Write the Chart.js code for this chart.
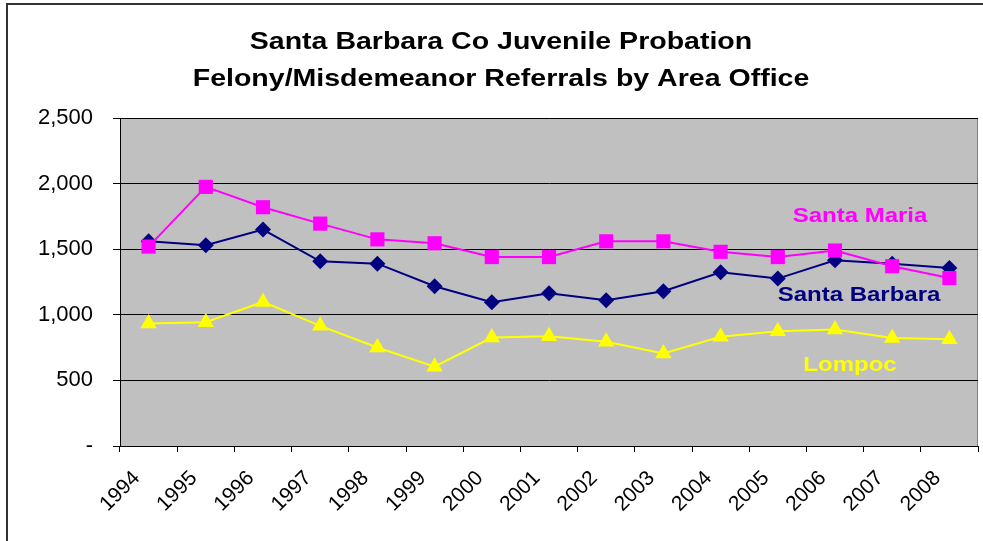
<!DOCTYPE html>
<html>
<head>
<meta charset="utf-8">
<script src="https://cdn.jsdelivr.net/npm/chart.js@4/dist/chart.umd.min.js"></script>
<style>
  html, body { margin: 0; padding: 0; background: #fff; overflow: hidden; }
  #wrap { position: relative; width: 983px; height: 541px; }
  #frame { position: absolute; left: 6px; top: 3px; width: 1000px; height: 600px;
           border-left: 2px solid #333; border-top: 2px solid #333; box-sizing: border-box; pointer-events: none; }
  canvas { position: absolute; left: 0; top: 0; }
</style>
</head>
<body>
<div id="wrap">
  <canvas id="c" width="983" height="541"></canvas>
  <div id="frame"></div>
</div>
<script>
const categories = ['1994','1995','1996','1997','1998','1999','2000','2001','2002','2003','2004','2005','2006','2007','2008'];
const santaMaria   = [1520, 1975, 1820, 1695, 1575, 1545, 1440, 1440, 1560, 1560, 1480, 1440, 1490, 1370, 1280];
const santaBarbara = [1560, 1530, 1650, 1408, 1390, 1218, 1096, 1164, 1111, 1180, 1324, 1276, 1416, 1390, 1357];
const lompoc       = [934, 944, 1098, 916, 751, 604, 827, 837, 794, 705, 832, 875, 888, 824, 814];
const titleLines = ['Santa Barbara Co Juvenile Probation', 'Felony/Misdemeanor Referrals by Area Office'];
const seriesNames = ['Santa Maria', 'Santa Barbara', 'Lompoc'];

const FONT = "'Liberation Sans', Arial, Helvetica, sans-serif";

function stretchedText(ctx, text, cx, baseY, font, color, sx) {
  ctx.save();
  ctx.translate(cx, baseY);
  ctx.scale(sx, 1);
  ctx.font = font;
  ctx.fillStyle = color;
  ctx.textAlign = 'center';
  ctx.textBaseline = 'alphabetic';
  ctx.fillText(text, 0, 0);
  ctx.restore();
}

const decor = {
  id: 'decor',
  beforeDraw(chart) {
    const { ctx, chartArea: a } = chart;
    ctx.save();
    ctx.fillStyle = '#C0C0C0';
    ctx.fillRect(a.left, a.top, a.right - a.left, a.bottom - a.top);
    ctx.strokeStyle = '#808080';
    ctx.lineWidth = 1;
    ctx.strokeRect(a.left + 0.5, a.top + 0.5, a.right - a.left - 1, a.bottom - a.top);
    ctx.restore();
  },
  afterDraw(chart) {
    const { ctx, chartArea: a } = chart;
    const tf = 'bold 23px ' + FONT;
    stretchedText(ctx, titleLines[0], 501, 49, tf, '#000', 1.24);
    stretchedText(ctx, titleLines[1], 501, 86, tf, '#000', 1.24);
    const lf = 'bold 20px ' + FONT;
    stretchedText(ctx, seriesNames[0], a.right - 118, a.top + 104, lf, '#FF00FF', 1.2);
    stretchedText(ctx, seriesNames[1], a.right - 119, a.top + 183, lf, '#000080', 1.2);
    stretchedText(ctx, seriesNames[2], a.right - 128, a.top + 253, lf, '#FFFF00', 1.2);
  }
};

new Chart(document.getElementById('c'), {
  type: 'line',
  data: {
    labels: categories,
    datasets: [
      { label: seriesNames[0], data: santaMaria, borderColor: '#FF00FF', backgroundColor: '#FF00FF',
        borderWidth: 2, pointStyle: 'rect', pointRadius: 10, pointBorderWidth: 0, tension: 0 },
      { label: seriesNames[1], data: santaBarbara, borderColor: '#000080', backgroundColor: '#000080',
        borderWidth: 2, pointStyle: 'rectRot', pointRadius: 8, pointBorderWidth: 0, tension: 0 },
      { label: seriesNames[2], data: lompoc, borderColor: '#FFFF00', backgroundColor: '#FFFF00',
        borderWidth: 2, pointStyle: 'triangle', pointRadius: 9.5, pointBorderWidth: 0, tension: 0 }
    ]
  },
  options: {
    responsive: false,
    animation: false,
    layout: { autoPadding: false, padding: { top: 118, right: 5, left: 0, bottom: 0 } },
    plugins: { legend: { display: false }, title: { display: false }, tooltip: { enabled: false } },
    scales: {
      x: {
        type: 'category',
        offset: true,
        grid: { display: true, drawOnChartArea: false, drawTicks: true, tickLength: 6, color: '#000', offset: true },
        border: { display: true, color: '#000', width: 1 },
        ticks: { color: '#000', font: { family: FONT, size: 21 }, minRotation: 45, maxRotation: 45,
                 autoSkip: false, padding: 14, labelOffset: -12 },
        afterFit(s) { s.height = 95; s.paddingLeft = 0; s.paddingRight = 0; }
      },
      y: {
        min: 0, max: 2500,
        grid: { color: '#000', lineWidth: 1, drawTicks: true, tickLength: 7 },
        border: { display: true, color: '#000', width: 1 },
        ticks: { stepSize: 500, color: '#000', font: { family: FONT, size: 22 }, padding: 20,
                 callback: v => v === 0 ? '-' : v.toLocaleString('en-US') },
        afterFit(s) { s.width = 120; s.paddingTop = 0; s.paddingBottom = 0; }
      }
    }
  },
  plugins: [decor]
});
</script>
</body>
</html>
